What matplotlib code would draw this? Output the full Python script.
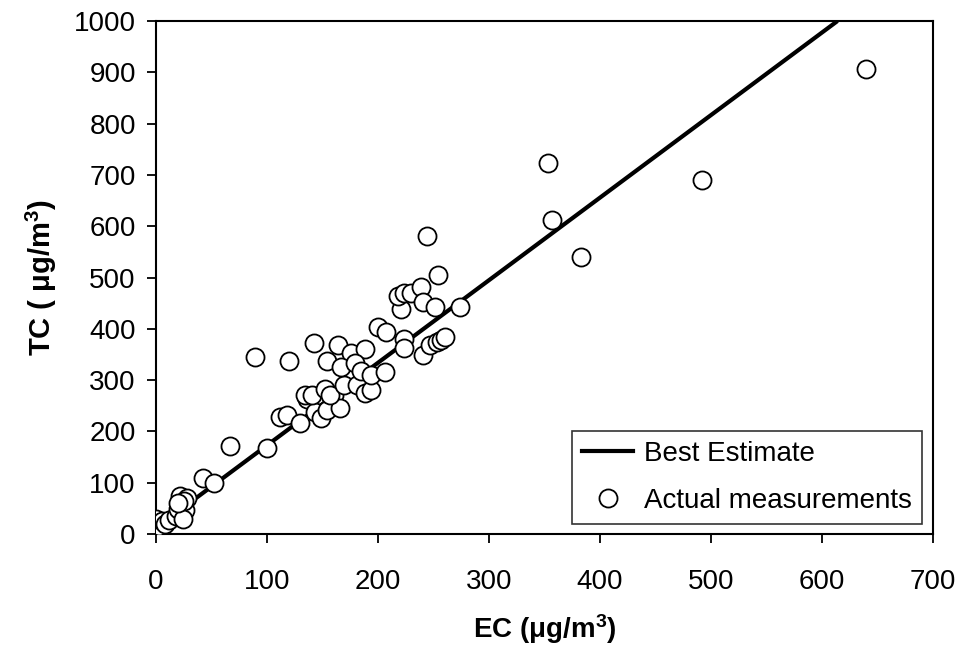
import matplotlib
matplotlib.use("Agg")
import matplotlib.pyplot as plt
from matplotlib.lines import Line2D

plt.rcParams['font.family'] = ['Liberation Sans', 'DejaVu Sans']
plt.rcParams['mathtext.default'] = 'regular'

# Actual measurements (EC, TC) in ug/m3
ec = [0, 3, 5, 8, 12, 18, 20, 26, 22, 28, 25, 24, 20, 42, 52, 67, 100,
      89, 120, 112, 118, 130, 136, 143, 149, 154, 160, 166, 134, 141, 152, 157,
      169, 181, 188, 194, 142, 154, 164, 176, 188, 200, 207, 167, 179, 185,
      194, 206, 223, 223, 221, 218, 223, 230, 239, 241, 244, 251, 254, 274,
      241, 247, 253, 257, 260, 353, 357, 383, 492, 640]
tc = [30, 15, 25, 20, 28, 35, 48, 46, 75, 70, 65, 30, 60, 110, 100, 172, 167,
      346, 338, 229, 232, 216, 264, 238, 226, 242, 271, 245, 271, 271, 282, 271,
      290, 290, 274, 281, 372, 338, 368, 353, 360, 404, 394, 326, 333, 318,
      310, 316, 381, 362, 438, 463, 470, 469, 482, 453, 581, 443, 505, 443,
      349, 368, 375, 378, 385, 724, 613, 540, 690, 906]

# Best estimate line
best_ec = [0, 614]
best_tc = [12, 1000]

xticks = [0, 100, 200, 300, 400, 500, 600, 700]
yticks = [0, 100, 200, 300, 400, 500, 600, 700, 800, 900, 1000]

FS = 20

fig = plt.figure(figsize=(9.67, 6.58), dpi=100)
ax = fig.add_axes([0.1613, 0.1884, 0.9648 - 0.1613, 0.9681 - 0.1884])

ax.plot(best_ec, best_tc, color='black', lw=3.0, solid_capstyle='butt', zorder=2)
ax.plot(ec, tc, linestyle='none', marker='o', markersize=13,
        markerfacecolor='white', markeredgecolor='black', markeredgewidth=1.3, zorder=3)

ax.set_xlim(0, 700)
ax.set_ylim(0, 1000)
ax.set_xticks(xticks)
ax.set_yticks(yticks)
ax.tick_params(axis='both', direction='out', length=6.5, width=1.3, labelsize=FS,
               colors='black')
ax.tick_params(axis='x', pad=19)
ax.tick_params(axis='y', pad=8)
for s in ax.spines.values():
    s.set_linewidth(1.5)
    s.set_color('black')

ax.set_xlabel('EC (μg/m$^{3}$)', fontsize=FS, fontweight='bold', labelpad=12)
ax.set_ylabel('TC ( μg/m$^{3}$)', fontsize=21, fontweight='bold', labelpad=11)

handles = [Line2D([], [], color='black', lw=3.0),
           Line2D([], [], linestyle='none', marker='o', markersize=13,
                  markerfacecolor='white', markeredgecolor='black', markeredgewidth=1.3)]
leg = ax.legend(handles, ['Best Estimate', 'Actual measurements'], loc='lower right',
                bbox_to_anchor=(0.986, 0.02), fontsize=FS, frameon=True, fancybox=False,
                edgecolor='black', handlelength=1.85, handletextpad=0.4, borderpad=0.35,
                labelspacing=0.75, borderaxespad=0)
leg.get_frame().set_linewidth(1.2)

fig.savefig('out.png', dpi=100)
